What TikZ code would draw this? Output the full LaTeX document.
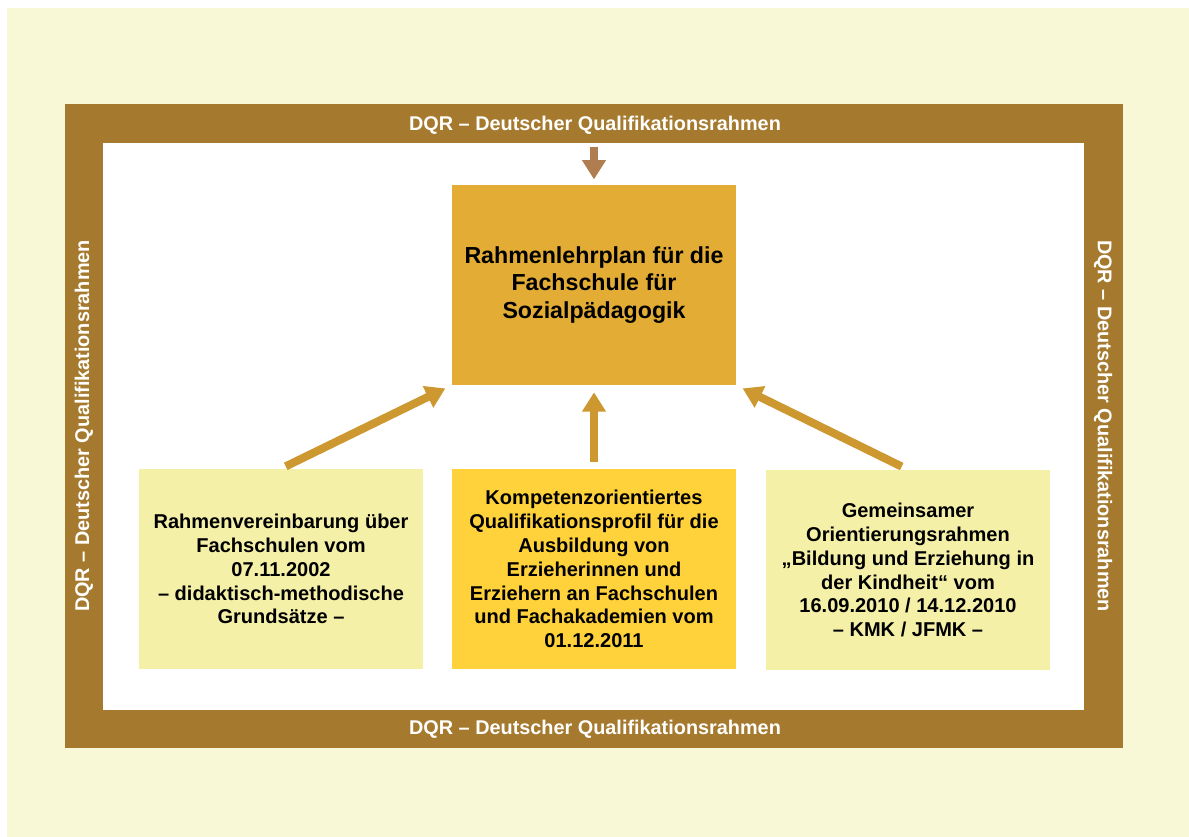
\documentclass[tikz,border=0pt]{standalone}
\usepackage{fontspec}
\setmainfont{Liberation Sans}
\usetikzlibrary{arrows.meta}

\definecolor{cream}{RGB}{248,248,214}
\definecolor{framebrown}{RGB}{166,122,46}
\definecolor{mainorange}{RGB}{227,172,53}
\definecolor{paleyellow}{RGB}{245,240,168}
\definecolor{midyellow}{RGB}{255,210,60}
\definecolor{arrowgold}{RGB}{206,152,48}
\definecolor{toparrow}{RGB}{176,125,80}

\tikzset{
	planbox/.style={minimum width=5.68cm, minimum height=4cm, inner sep=0pt, align=center, font=\bfseries\fontsize{11.4}{13.6}\selectfont},
	framelabel/.style={text=white, inner sep=0pt, font=\bfseries\fontsize{11.3}{12}\selectfont},
	flow/.style={line width=4.6pt, color=arrowgold, -{Triangle[length=11pt, width=13pt]}}
}

\begin{document}
\begin{tikzpicture}[x=0.02cm, y=-0.02cm]
		%%%%% START %%%%%
		\useasboundingbox (0, 0) rectangle (1189, 837);
		\fill[white] (0, 0) rectangle (1189, 837);
		\fill[cream] (7, 8) rectangle (1189, 837);
		
		% frame
		\fill[framebrown] (65, 104) rectangle (1123, 748);
		\fill[white] (103, 143) rectangle (1084, 710);
		
		\node[framelabel] (dqrtop) at (595, 125) {DQR -- Deutscher Qualifikationsrahmen};
		\node[framelabel] (dqrbottom) at (595, 729) {DQR -- Deutscher Qualifikationsrahmen};
		\node[framelabel, rotate=90] (dqrleft) at (84, 426) {DQR -- Deutscher Qualifikationsrahmen};
		\node[framelabel, rotate=-90] (dqrright) at (1103, 426) {DQR -- Deutscher Qualifikationsrahmen};
		
		% boxes
		\node[planbox, fill=mainorange, font=\bfseries\fontsize{13.2}{15.6}\selectfont] (lehrplan) at (594, 285)
			{Rahmenlehrplan für die\\Fachschule für\\Sozialpädagogik};
		\node[planbox, fill=paleyellow] (vereinbarung) at (281, 569)
			{Rahmenvereinbarung über\\Fachschulen vom\\07.11.2002\\-- didaktisch-methodische\\Grundsätze --};
		\node[planbox, fill=midyellow] (profil) at (594, 569)
			{Kompetenzorientiertes\\Qualifikationsprofil für die\\Ausbildung von\\Erzieherinnen und\\Erziehern an Fachschulen\\und Fachakademien vom\\01.12.2011};
		\node[planbox, fill=paleyellow] (orientierung) at (908, 570)
			{Gemeinsamer\\Orientierungsrahmen\\„Bildung und Erziehung in\\der Kindheit“ vom\\16.09.2010 / 14.12.2010\\-- KMK / JFMK --};
		
		% arrows
		\coordinate (frametop) at (594, 143);
		\draw[flow, color=toparrow, shorten <=2pt, shorten >=3pt] (frametop) -- (lehrplan.north);
		\draw[flow, shorten <=3pt, shorten >=4pt] (vereinbarung.north) -- (lehrplan.south west);
		\draw[flow, shorten <=4pt, shorten >=4pt] (profil.north) -- (lehrplan.south);
		\draw[flow, shorten <=4pt, shorten >=4pt] (orientierung.north) -- (lehrplan.south east);
		%%%%% END %%%%%
	\end{tikzpicture}
\end{document}
